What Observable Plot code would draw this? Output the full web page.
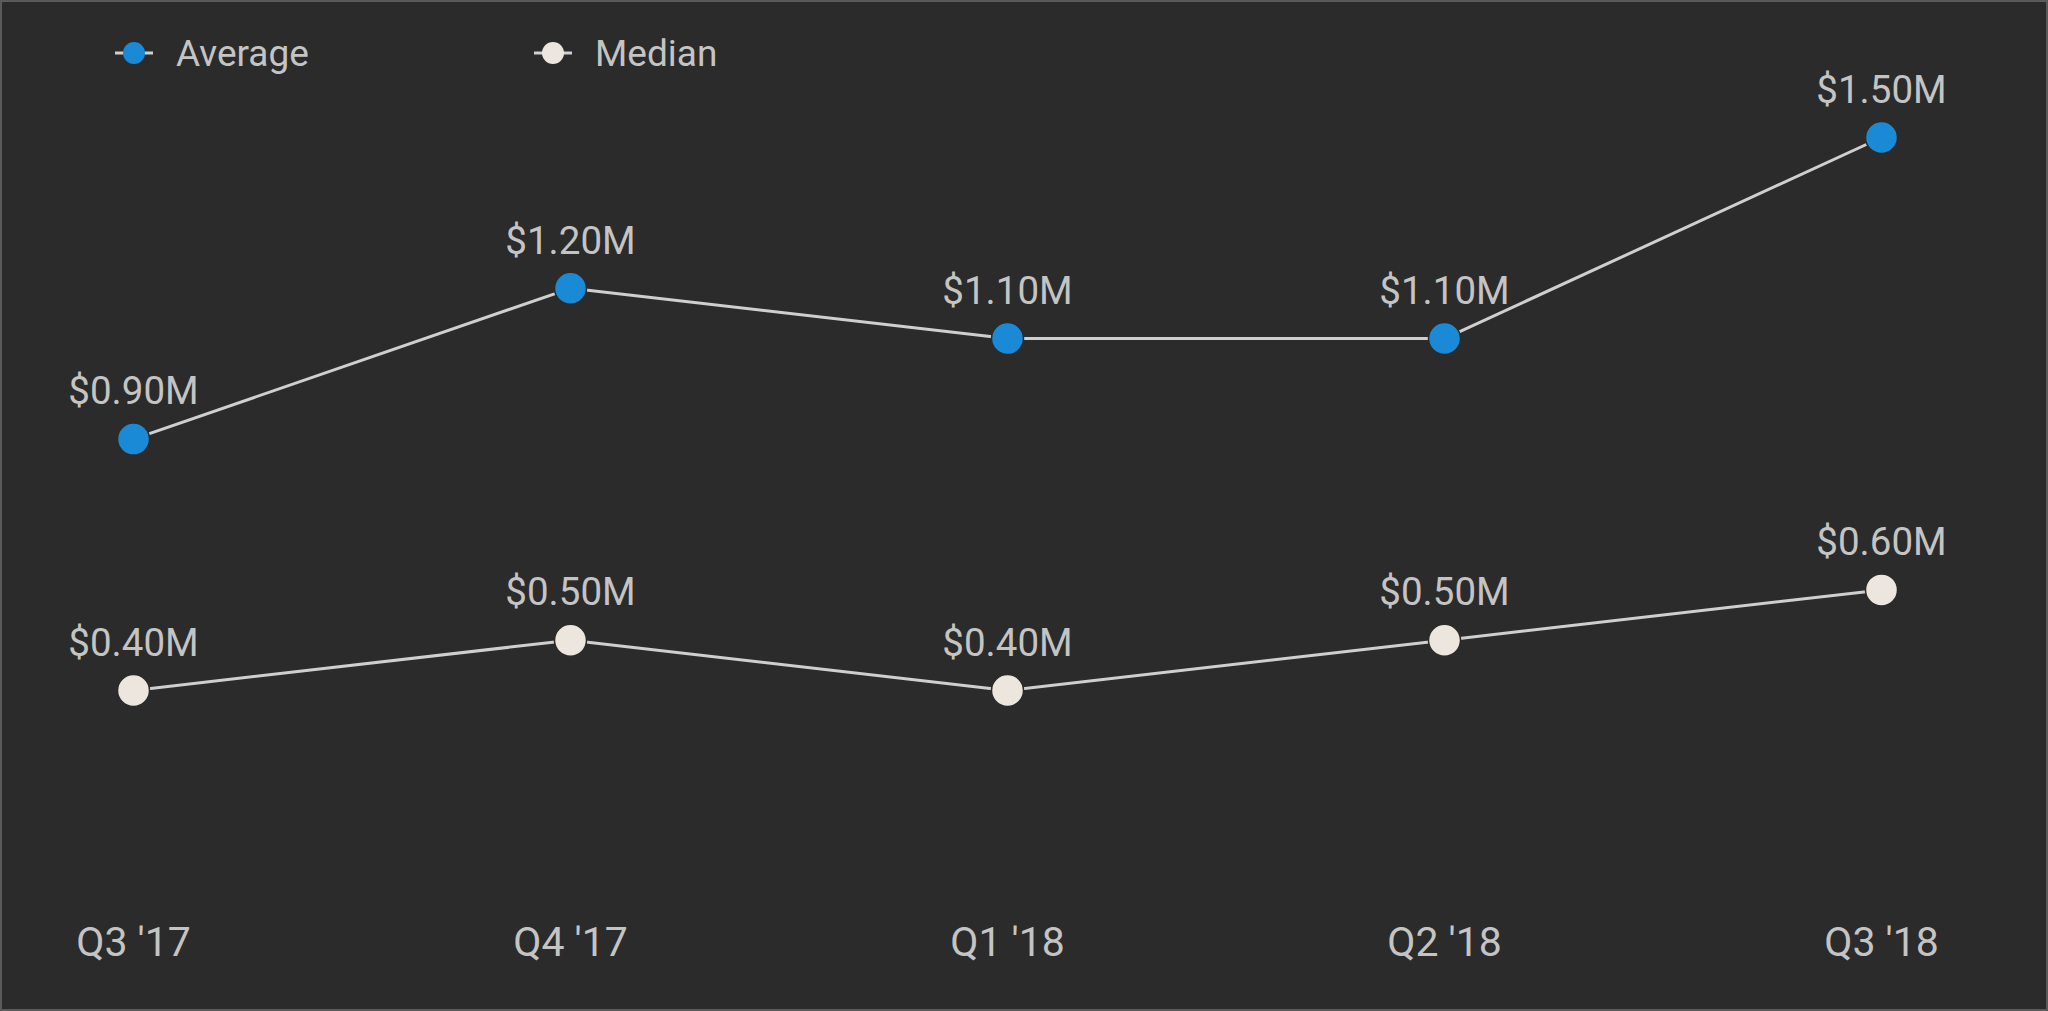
<!DOCTYPE html>
<html>
<head>
<meta charset="utf-8">
<script src="https://cdn.jsdelivr.net/npm/d3@7"></script>
<script src="https://cdn.jsdelivr.net/npm/@observablehq/plot@0.6"></script>
<style>
  html, body { margin: 0; padding: 0; background: #2b2b2b; }
  #wrap { position: relative; width: 2048px; height: 1011px; overflow: hidden; background: #2b2b2b; font-family: Roboto, "Noto Sans", sans-serif; }
  #frame { position: absolute; left: 0; top: 0; width: 2048px; height: 1011px; box-sizing: border-box; border: 2px solid #5a5a5a; pointer-events: none; }
  #legend { position: absolute; left: 0; top: 0; height: 106px; width: 2048px; }
  .item { position: absolute; top: 0; height: 106px; display: flex; align-items: center; color: #c4c4c4; font-size: 37px; }
  .item svg { margin-right: 22px; }
  #chart { position: absolute; left: 0; top: 0; }
</style>
</head>
<body>
<div id="wrap">
  <div id="chart"></div>
  <div id="legend"></div>
  <div id="frame"></div>
</div>
<script>
const quarters = ["Q3 '17", "Q4 '17", "Q1 '18", "Q2 '18", "Q3 '18"];
const averageValues = [0.9, 1.2, 1.1, 1.1, 1.5];
const medianValues = [0.4, 0.5, 0.4, 0.5, 0.6];
const seriesNames = ["Average", "Median"];
const seriesColors = ["#1a8ad6", "#ede6df"];

const data = [
  ...quarters.map((q, i) => ({quarter: q, value: averageValues[i], series: seriesNames[0]})),
  ...quarters.map((q, i) => ({quarter: q, value: medianValues[i], series: seriesNames[1]}))
];

// Legend (HTML)
const legend = document.getElementById("legend");
const legendLeft = [114, 533];
seriesNames.forEach((name, i) => {
  const item = document.createElement("div");
  item.className = "item";
  item.style.left = legendLeft[i] + "px";
  item.innerHTML = `<svg width="40" height="30"><line x1="1" x2="39" y1="15" y2="15" stroke="#d0d0d0" stroke-width="3"/><circle cx="20" cy="15" r="11" fill="${seriesColors[i]}"/></svg><span>${name}</span>`;
  legend.appendChild(item);
});

const fmt = v => "$" + v.toFixed(2) + "M";

const chart = Plot.plot({
  width: 2048,
  height: 1011,
  marginLeft: 132,
  marginRight: 166,
  marginTop: 137,
  marginBottom: 120,
  style: {background: "transparent", fontFamily: "Roboto, 'Noto Sans', sans-serif", color: "#c4c4c4", overflow: "visible"},
  x: {type: "point", domain: quarters, padding: 0, label: null},
  y: {domain: [0, 1.5], axis: null},
  color: {domain: seriesNames, range: seriesColors},
  marks: [
    Plot.axisX({tickSize: 0, tickPadding: 35, fontSize: 41, label: null, fill: "#c4c4c4"}),
    Plot.line(data, {x: "quarter", y: "value", z: "series", stroke: "#cfcfcf", strokeWidth: 3}),
    Plot.dot(data, {x: "quarter", y: "value", fill: "series", r: 16, stroke: "#2b2b2b", strokeWidth: 1.5}),
    Plot.text(data, {x: "quarter", y: "value", text: d => fmt(d.value), dy: -47, fontSize: 38.5, fill: "#c4c4c4"})
  ]
});
document.getElementById("chart").appendChild(chart);
</script>
</body>
</html>
